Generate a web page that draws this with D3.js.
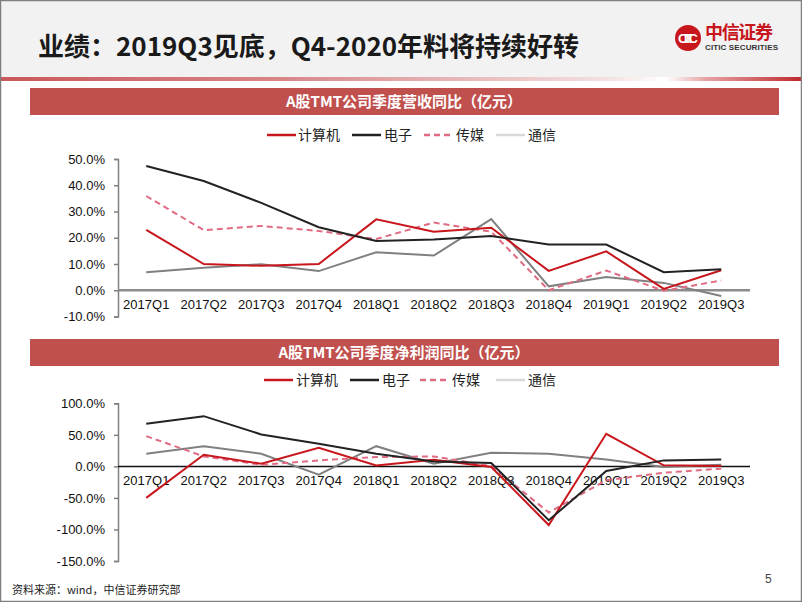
<!DOCTYPE html>
<html><head><meta charset="utf-8">
<script src="https://cdn.jsdelivr.net/npm/d3@7"></script>
<style>
html,body{margin:0;padding:0;background:#fff;}
svg{display:block;}
</style></head>
<body>
<script>
// ---- data ----
const quarters = ["2017Q1","2017Q2","2017Q3","2017Q4","2018Q1","2018Q2","2018Q3","2018Q4","2019Q1","2019Q2","2019Q3"];
const seriesNames = ["计算机","电子","传媒","通信"];
// 营收同比 (%)
const revComputer = [23.0, 10.0, 9.3, 10.0, 27.0, 22.3, 23.8, 7.4, 14.8, 0.5, 7.6];
const revElectronic = [47.3, 41.6, 33.3, 24.0, 18.8, 19.3, 20.7, 17.4, 17.4, 6.9, 8.0];
const revMedia = [35.9, 22.9, 24.5, 22.6, 19.5, 25.8, 22.3, 0.0, 7.5, -0.2, 3.7];
const revTelecom = [6.9, 8.6, 9.9, 7.3, 14.5, 13.2, 27.1, 1.5, 5.0, 2.8, -2.2];
// 净利润同比 (%)
const npComputer = [-50.0, 18.5, 4.2, 29.6, 1.6, 10.5, -1.0, -93.0, 51.7, 1.6, 0.5];
const npElectronic = [67.5, 79.6, 50.6, 35.9, 20.0, 7.9, 5.3, -85.4, -7.4, 9.5, 11.0];
const npMedia = [48.0, 15.8, 2.6, 9.5, 14.8, 15.8, 0.5, -73.0, -22.0, -10.0, -3.7];
const npTelecom = [20.0, 32.0, 20.0, -13.0, 32.0, 4.2, 21.7, 20.0, 11.0, -1.0, 2.7];
const revTicks = [-10, 0, 10, 20, 30, 40, 50];
const npTicks = [-150, -100, -50, 0, 50, 100];
const title = "业绩：2019Q3见底，Q4-2020年料将持续好转";
const panel1Title = "A股TMT公司季度营收同比（亿元）";
const panel2Title = "A股TMT公司季度净利润同比（亿元）";
const footer = "资料来源：wind，中信证券研究部";

const W = 802, H = 602;
const svg = d3.select("body").append("svg").attr("width", W).attr("height", H);
const defs = svg.append("defs");

// header background
svg.append("rect").attr("x",0).attr("y",0).attr("width",W).attr("height",77).attr("fill","#f2f2f2");
const g1 = defs.append("linearGradient").attr("id","redline").attr("x1","0").attr("x2","1");
[[0,"#c9585a",1],[0.35,"#d88688",1],[0.75,"#f3dede",1],[0.83,"#ffffff",1],[0.88,"#e6a3a4",1],[1,"#c0282d",1]].forEach(s=>{
  g1.append("stop").attr("offset",s[0]).attr("stop-color",s[1]);
});
svg.append("rect").attr("x",0).attr("y",77).attr("width",W).attr("height",4).attr("fill","url(#redline)");

svg.append("text").attr("x",38).attr("y",56).attr("font-family","'Noto Sans CJK SC','Noto Sans',sans-serif")
  .attr("font-weight","bold").attr("font-size",26).attr("fill","#1a1a1a").text(title);

// logo
const logo = svg.append("g");
logo.append("circle").attr("cx",688).attr("cy",38).attr("r",13).attr("fill","#c8161d");
logo.append("text").attr("x",688).attr("y",43).attr("text-anchor","middle").attr("font-family","'Liberation Sans Narrow','Liberation Sans',sans-serif")
  .attr("font-weight","bold").attr("font-size",13).attr("fill","#fff").attr("textLength",20).text("CITIC");
logo.append("text").attr("x",705).attr("y",39).attr("font-family","'Noto Sans CJK SC',sans-serif")
  .attr("font-weight","bold").attr("font-size",18).attr("fill","#c8161d").attr("textLength",68).text("中信证券");
logo.append("text").attr("x",705).attr("y",50).attr("font-family","'Liberation Sans',sans-serif")
  .attr("font-weight","bold").attr("font-size",8).attr("fill","#333").attr("textLength",73).text("CITIC SECURITIES");

// border
svg.append("rect").attr("x",0.5).attr("y",0.5).attr("width",W-1).attr("height",H-1).attr("fill","none").attr("stroke","#7f7f7f").attr("stroke-width",1.5);

const colors = ["#c8161d","#222222","#e06c84","#808080"];
const legendColors = ["#c8161d","#222222","#e06c84","#d9d9d9"];
const dashes = [null,null,"6,4",null];

const x = d3.scaleBand().domain(quarters).range([117.5, 750]);
const cx = d => x(d) + x.bandwidth()/2;

function panel(cfg){
  const g = svg.append("g");
  g.append("rect").attr("x",30).attr("y",cfg.barY).attr("width",749).attr("height",27).attr("fill","#c0504d");
  g.append("text").attr("x",404).attr("y",cfg.barY+19).attr("text-anchor","middle").attr("font-family","'Noto Sans CJK SC',sans-serif")
    .attr("font-weight","bold").attr("font-size",15).attr("fill","#fff").text(cfg.title);
  // legend
  cfg.legend.forEach((lx,i)=>{
    g.append("line").attr("x1",lx[0]).attr("x2",lx[0]+29).attr("y1",cfg.legY).attr("y2",cfg.legY)
      .attr("stroke",legendColors[i]).attr("stroke-width",2.5).attr("stroke-dasharray",dashes[i]);
    g.append("text").attr("x",lx[1]).attr("y",cfg.legY+5).attr("font-family","'Noto Sans CJK SC',sans-serif")
      .attr("font-size",14).attr("fill","#222").text(seriesNames[i]);
  });
  const y = d3.scaleLinear().domain(cfg.domain).range(cfg.range);
  // y axis
  const ya = g.append("g").attr("transform","translate(118,0)")
    .call(d3.axisLeft(y).tickValues(cfg.ticks).tickSize(4).tickFormat(d=>d.toFixed(1)+"%"));
  ya.select(".domain").attr("stroke","#808080").attr("stroke-width",1.5);
  ya.selectAll(".tick line").attr("stroke","#808080").attr("stroke-width",1.5);
  ya.selectAll(".tick text").attr("x",-13).attr("font-family","'Liberation Sans',Arial,sans-serif").attr("font-size",13).attr("fill","#111");
  // zero line
  g.append("line").attr("x1",118).attr("x2",750).attr("y1",y(0)).attr("y2",y(0))
    .attr("stroke",cfg.zeroColor).attr("stroke-width",cfg.zeroWidth);
  // x labels
  g.selectAll(".xl").data(quarters).enter().append("text")
    .attr("x",d=>cx(d)).attr("y",y(0)+19).attr("text-anchor","middle")
    .attr("font-family","'Liberation Sans',Arial,sans-serif").attr("font-size",13).attr("fill","#111").text(d=>d);
  // lines
  const line = d3.line().x((d,i)=>cx(quarters[i])).y(d=>y(d));
  const order = [3,2,0,1];
  order.forEach(i=>{
    g.append("path").attr("d",line(cfg.series[i])).attr("fill","none").attr("stroke",colors[i])
      .attr("stroke-width",2).attr("stroke-dasharray",dashes[i]).attr("stroke-linejoin","miter");
  });
}

panel({barY:88, title:panel1Title, legY:135, legend:[[267,298],[352,384],[424,456],[496,528]],
  domain:[-10,50], range:[316.5,159], ticks:revTicks, zeroColor:"#8c8c8c", zeroWidth:2.5,
  series:[revComputer,revElectronic,revMedia,revTelecom]});
panel({barY:339, title:panel2Title, legY:380, legend:[[264,296],[350,382],[420,452],[496,528]],
  domain:[-150,100], range:[561,403.3], ticks:npTicks, zeroColor:"#111", zeroWidth:1.5,
  series:[npComputer,npElectronic,npMedia,npTelecom]});

svg.append("text").attr("x",765).attr("y",583).attr("font-family","'Liberation Sans',sans-serif").attr("font-size",12).attr("fill","#444").text("5");
svg.append("text").attr("x",12).attr("y",594).attr("font-family","'Noto Sans CJK SC',sans-serif").attr("font-size",11).attr("fill","#222").text(footer);
</script>
</body></html>
